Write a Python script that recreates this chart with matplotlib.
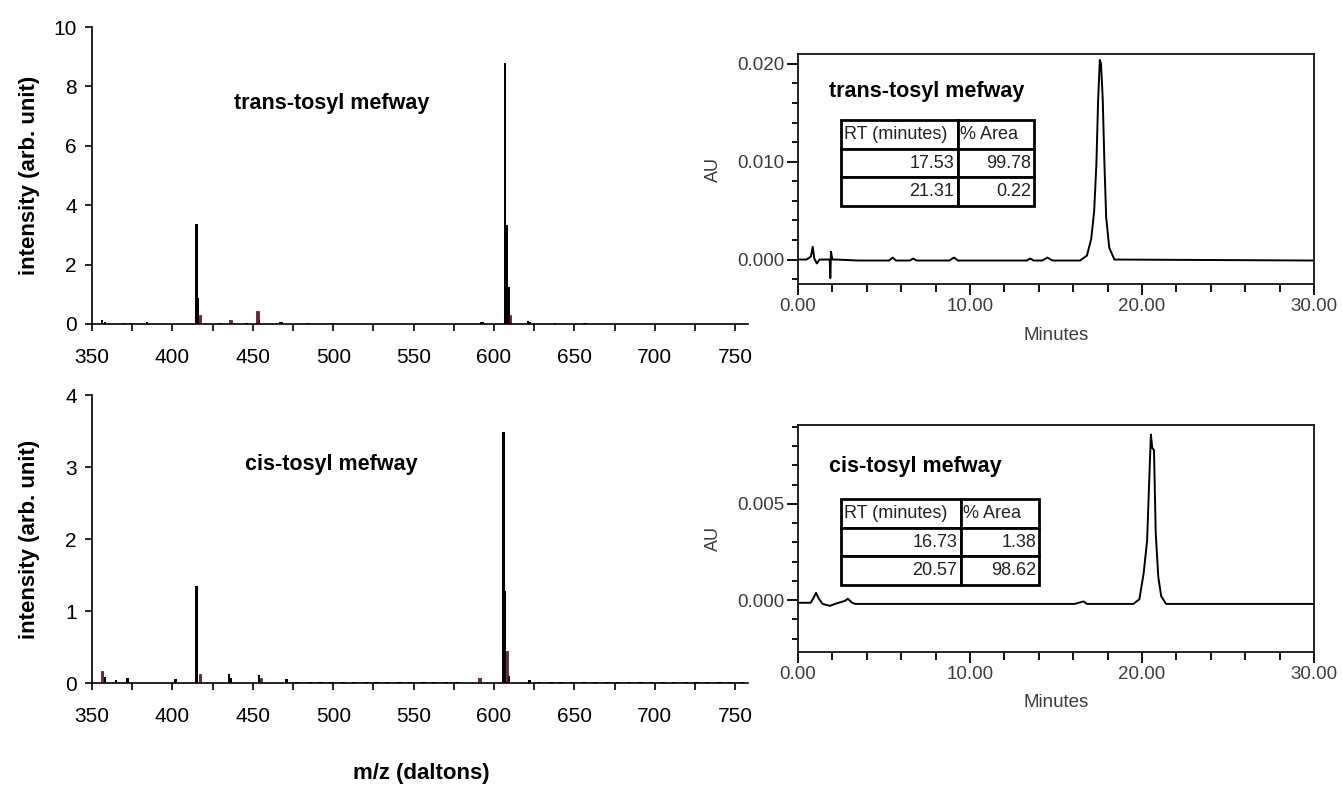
import matplotlib
matplotlib.use("Agg")
import matplotlib.pyplot as plt
from matplotlib.ticker import MultipleLocator, FormatStrFormatter

plt.rcParams['font.family'] = ['Liberation Sans', 'DejaVu Sans']

# ---- mass spectra: trans-tosyl mefway (m/z, intensity) ----
trans_mz = [356, 358, 370, 374, 384, 415, 416, 430, 446, 454, 467, 468, 484, 500,
            592, 593, 607, 608, 609, 621, 622, 638, 656, 657]
trans_int = [0.15, 0.05, 0.04, 0.04, 0.05, 3.38, 0.87, 0.03, 0.04, 0.15, 0.06, 0.06, 0.04, 0.03,
             0.05, 0.05, 8.78, 3.33, 1.25, 0.10, 0.08, 0.03, 0.04, 0.04]
trans_red_mz = [417, 436, 453, 610]
trans_red_int = [0.30, 0.15, 0.42, 0.30]

# ---- mass spectra: cis-tosyl mefway ----
cis_mz = [358, 365, 372, 402, 415, 435, 436, 454, 471, 606, 607, 609, 622]
cis_int = [0.08, 0.04, 0.07, 0.05, 1.35, 0.12, 0.07, 0.11, 0.05, 3.48, 1.28, 0.10, 0.04]
cis_red_mz = [356, 417, 455, 591, 608]
cis_red_int = [0.17, 0.12, 0.07, 0.07, 0.45]
cis_noise_mz = [478, 485, 492, 499, 506, 513, 520, 527, 534, 541, 548, 556, 563, 570, 577,
                628, 635, 642, 649, 656, 663, 670, 677, 684, 691, 698, 705, 712, 719, 726,
                733, 740, 747, 754]
cis_noise_int = [0.02, 0.015, 0.02, 0.02, 0.015, 0.02, 0.02, 0.015, 0.02, 0.02, 0.015, 0.02,
                 0.02, 0.015, 0.02, 0.02, 0.015, 0.02, 0.02, 0.015, 0.02, 0.02, 0.015, 0.02,
                 0.02, 0.015, 0.02, 0.02, 0.015, 0.02, 0.02, 0.015, 0.02, 0.02]

# ---- chromatograms (minutes, AU) ----
trans_t = [0.0, 0.5, 0.75, 0.86, 0.95, 1.1, 1.25, 1.5, 1.85, 1.88, 1.92, 2.0, 2.2, 3.5,
           5.3, 5.5, 5.7, 6.5, 6.7, 6.9, 8.8, 9.07, 9.3, 13.3, 13.5, 13.7, 14.2, 14.5, 14.8,
           16.4, 16.8, 17.05, 17.22, 17.35, 17.45, 17.55, 17.62, 17.72, 17.82, 17.92, 18.1,
           18.4, 30.0]
trans_au = [0.0000, 0.0000, 0.0003, 0.0013, 0.0001, -0.0004, 0.0000, 0.0000, 0.0000,
            -0.0019, 0.0008, 0.0000, 0.0000, -0.0001,
            -0.0001, 0.0002, -0.0001, -0.0001, 0.0001, -0.0001, -0.0001, 0.0002, -0.0001,
            -0.0001, 0.0001, -0.0001, -0.0001, 0.0002, -0.0001,
            -0.0001, 0.0004, 0.0021, 0.0049, 0.0097, 0.0162, 0.0204, 0.0200, 0.0164,
            0.0097, 0.0043, 0.0012, 0.0000, -0.0001]

cis_t = [0.0, 0.74, 0.9, 1.05, 1.2, 1.43, 1.86, 2.15, 2.74, 2.9, 3.15, 3.34, 16.1, 16.6,
         16.8, 19.5, 19.85, 20.1, 20.3, 20.45, 20.52, 20.6, 20.7, 20.8, 20.95, 21.12, 21.4, 30.0]
cis_au = [-0.00014, -0.00014, 0.0001, 0.00038, 0.00009, -0.0002, -0.0003, -0.0002,
          -0.00004, 0.00007, -0.00014, -0.0002, -0.0002, -0.00007,
          -0.0002, -0.0002, 0.00004, 0.0014, 0.0031, 0.0069, 0.0086, 0.0079, 0.0078,
          0.0035, 0.0012, 0.0002, -0.0002, -0.0002]

table_head = ["RT (minutes)", "% Area"]
trans_table = [["17.53", "99.78"], ["21.31", "0.22"]]
cis_table = [["16.73", "1.38"], ["20.57", "98.62"]]

fig = plt.figure(figsize=(13.42, 7.85), dpi=100)

ax1 = fig.add_axes([0.0686, 0.5873, 0.4888, 0.3783])
ax2 = fig.add_axes([0.0686, 0.1299, 0.4888, 0.3669])
ax3 = fig.add_axes([0.5946, 0.6382, 0.3845, 0.2930])
ax4 = fig.add_axes([0.5946, 0.1694, 0.3845, 0.2892])

maroon = '#8a1538'


def mass_axes(ax, mz, inten, rmz, rint, ymax, title, ty):
    ax.bar(mz, inten, width=1.5, color='black', linewidth=0)
    ax.bar(rmz, rint, width=1.5, color=maroon, edgecolor='black', linewidth=0.4)
    ax.set_xlim(350, 758)
    ax.set_ylim(0, ymax)
    for s in ['top', 'right']:
        ax.spines[s].set_visible(False)
    for s in ['left', 'bottom']:
        ax.spines[s].set_linewidth(1.2)
    ax.xaxis.set_major_locator(MultipleLocator(50))
    ax.xaxis.set_minor_locator(MultipleLocator(25))
    ax.yaxis.set_major_locator(MultipleLocator(1 if ymax == 4 else 2))
    ax.tick_params(axis='x', which='both', direction='out', length=5, width=1.2,
                   labelsize=15, pad=12)
    ax.tick_params(axis='y', direction='out', length=5, width=1.2, labelsize=15, pad=6)
    ax.set_ylabel("intensity (arb. unit)", fontsize=16, fontweight='bold')
    ax.yaxis.set_label_coords(-0.079, 0.5)
    ax.text(499, ty, title, fontsize=15.5, fontweight='bold', ha='center', va='center')


mass_axes(ax1, trans_mz, trans_int, trans_red_mz, trans_red_int, 10, "trans-tosyl mefway", 7.44)
mass_axes(ax2, cis_mz, cis_int, cis_red_mz, cis_red_int, 4, "cis-tosyl mefway", 3.03)
ax2.bar(cis_noise_mz, cis_noise_int, width=3, color='black', linewidth=0)
fig.text(421 / 1342, 1 - 773 / 785, "m/z (daltons)", fontsize=16, fontweight='bold',
         ha='center', va='center')

gray = '#3c3c3c'


def chrom_axes(ax, t, au, ylim, major, minor, title, ty, rows, bbox):
    ax.plot(t, au, color='black', linewidth=1.4)
    ax.set_xlim(0, 30)
    ax.set_ylim(*ylim)
    for s in ax.spines.values():
        s.set_linewidth(1.4)
        s.set_color('#222222')
    ax.xaxis.set_major_locator(MultipleLocator(10))
    ax.xaxis.set_minor_locator(MultipleLocator(2))
    ax.yaxis.set_major_locator(MultipleLocator(major))
    ax.yaxis.set_minor_locator(MultipleLocator(minor))
    ax.xaxis.set_major_formatter(FormatStrFormatter('%.2f'))
    ax.yaxis.set_major_formatter(FormatStrFormatter('%.3f'))
    ax.tick_params(which='major', direction='out', length=8, width=1.3,
                   labelsize=13.5, labelcolor=gray, pad=2)
    ax.tick_params(which='minor', direction='out', length=4, width=1.3)
    ax.tick_params(axis='x', which='minor', length=6)
    ax.set_xlabel("Minutes", fontsize=13.5, color=gray)
    ax.xaxis.set_label_coords(0.5, -0.185)
    ax.set_ylabel("AU", fontsize=13, color=gray)
    ax.yaxis.set_label_coords(-0.148, 0.5)
    ax.text(0.06, ty, title, transform=ax.transAxes, fontsize=15.5, fontweight='bold',
            ha='left', va='center')
    tb = ax.table(cellText=rows, colLabels=table_head, cellLoc='right', colLoc='left',
                  colWidths=[0.606, 0.394], bbox=bbox)
    tb.auto_set_font_size(False)
    tb.set_fontsize(13)
    for cell in tb.get_celld().values():
        cell.set_linewidth(2)
        cell.PAD = 0.03
        cell.get_text().set_color('#222222')


chrom_axes(ax3, trans_t, trans_au, (-0.0025, 0.0210), 0.010, 0.002,
           "trans-tosyl mefway", 0.835, trans_table, [0.083, 0.339, 0.374, 0.374])
chrom_axes(ax4, cis_t, cis_au, (-0.0027, 0.0091), 0.005, 0.001,
           "cis-tosyl mefway", 0.815, cis_table, [0.083, 0.295, 0.384, 0.379])

fig.savefig("out.png", dpi=100)
